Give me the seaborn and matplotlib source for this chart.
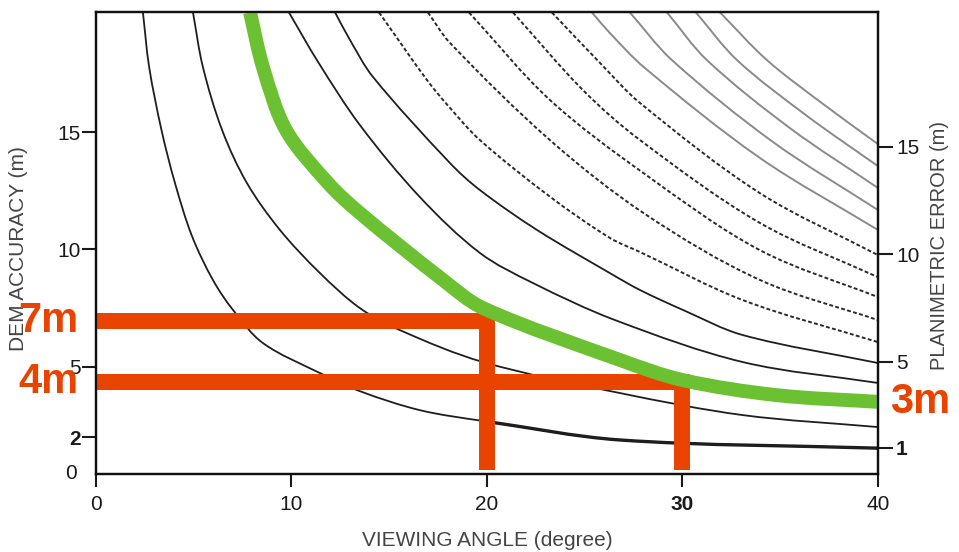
import matplotlib
matplotlib.use("Agg")
import matplotlib.pyplot as plt
import seaborn as sns
from matplotlib.path import Path
from matplotlib.patches import PathPatch

# Curves: viewing angle (degree) -> DEM accuracy (m),
# one curve per planimetric error (m)
angle_1m = [2.40, 2.72, 3.35, 4.04, 4.91, 5.98, 7.01, 8.54, 11.46, 13.50, 16.57, 19.80, 26.80, 40.0]
dem_1m = [20.1, 17.77, 15.09, 12.83, 10.57, 8.70, 7.42, 6.01, 4.73, 3.96, 3.15, 2.69, 1.88, 1.53]

angle_2m = [4.96, 5.47, 6.45, 7.72, 9.41, 11.46, 13.50, 15.55, 19.80, 26.80, 33.09, 40.0]
dem_2m = [20.1, 17.77, 15.09, 12.83, 10.83, 8.99, 7.50, 6.56, 5.20, 3.88, 2.94, 2.43]

angle_3m = [7.88, 8.54, 9.72, 11.87, 13.50, 17.75, 19.80, 26.80, 30.03, 34.83, 40.1]
dem_3m = [20.1, 17.77, 15.09, 12.83, 11.55, 8.70, 7.50, 5.29, 4.43, 3.79, 3.50]

angle_4m = [9.87, 11.36, 13.50, 16.57, 19.64, 22.35, 26.55, 33.09, 40.0]
dem_4m = [20.1, 17.99, 15.30, 12.23, 9.85, 8.57, 6.99, 5.20, 4.31]

angle_5m = [12.23, 12.99, 14.17, 18.11, 19.64, 22.56, 26.29, 27.83, 30.03, 33.09, 40.0]
dem_5m = [20.1, 18.93, 17.35, 13.68, 12.53, 10.83, 8.99, 8.27, 7.42, 6.35, 5.16]

angle_6m = [14.48, 16.93, 18.11, 19.64, 23.22, 26.29, 27.83, 33.09, 40.0]
dem_6m = [20.1, 17.22, 16.03, 14.66, 12.25, 10.49, 9.89, 7.84, 6.05]

angle_7m = [16.98, 18.11, 23.22, 28.08, 33.96, 40.0]
dem_7m = [20.1, 18.80, 14.66, 11.51, 8.70, 6.99]

angle_8m = [19.08, 23.22, 28.08, 33.96, 40.0]
dem_8m = [20.1, 16.37, 13.21, 9.97, 7.97]

angle_9m = [21.33, 24.91, 27.83, 33.96, 40.0]
dem_9m = [20.1, 16.79, 14.66, 11.13, 8.82]

angle_10m = [23.32, 25.78, 27.83, 33.96, 40.0]
dem_10m = [20.1, 17.95, 16.24, 12.40, 9.76]

angle_11m = [25.37, 26.29, 28.08, 33.96, 40.0]
dem_11m = [20.1, 19.22, 17.73, 13.90, 10.83]

angle_12m = [27.31, 29.46, 34.63, 40.0]
dem_12m = [20.1, 18.07, 14.58, 11.68]

angle_13m = [29.21, 31.25, 35.50, 40.0]
dem_13m = [20.1, 18.07, 15.17, 12.62]

angle_14m = [30.69, 32.79, 36.37, 40.0]
dem_14m = [20.1, 18.07, 15.69, 13.55]

angle_15m = [31.92, 34.32, 37.19, 40.0]
dem_15m = [20.1, 18.07, 16.20, 14.49]

# red read-off markers
marker_angle = [20, 30]
marker_dem = [6.95, 4.33]
marker_text = ["7m", "4m"]
marker_floor = 0.6

x_ticks = [0, 10, 20, 30, 40]
left_ticks = [2, 5, 10, 15]
right_ticks = [1, 5, 10, 15]

RED = "#e94300"
GREEN = "#6cc133"

# roughly px per unit, so the smoothing treats both axes alike
SX, SY = 19.55, 23.46


def smooth_path(xs, ys):
    """Cubic Bezier path through the read points (chord-length Catmull-Rom)."""
    pts = [(x * SX, y * SY) for x, y in zip(xs, ys)]
    n = len(pts)
    t = [0.0]
    for i in range(1, n):
        dx = pts[i][0] - pts[i - 1][0]
        dy = pts[i][1] - pts[i - 1][1]
        t.append(t[-1] + (dx * dx + dy * dy) ** 0.5)
    tang = []
    for i in range(n):
        a, b = max(i - 1, 0), min(i + 1, n - 1)
        dt = t[b] - t[a]
        tang.append(((pts[b][0] - pts[a][0]) / dt, (pts[b][1] - pts[a][1]) / dt))
    verts = [pts[0]]
    codes = [Path.MOVETO]
    for i in range(n - 1):
        h = (t[i + 1] - t[i]) / 3
        c1 = (pts[i][0] + tang[i][0] * h, pts[i][1] + tang[i][1] * h)
        c2 = (pts[i + 1][0] - tang[i + 1][0] * h, pts[i + 1][1] - tang[i + 1][1] * h)
        verts += [c1, c2, pts[i + 1]]
        codes += [Path.CURVE4] * 3
    verts = [(x / SX, y / SY) for x, y in verts]
    return Path(verts, codes)


def draw_curve(ax, xs, ys, **kw):
    ax.add_patch(PathPatch(smooth_path(xs, ys), fill=False, **kw))


sns.set_theme(style="white")
plt.rcParams["font.family"] = ["Liberation Sans", "DejaVu Sans"]

fig = plt.figure(figsize=(9.59, 5.52), dpi=100)
ax = fig.add_axes([0.1001, 0.1413, 0.8154, 0.8370])

solid = [(angle_1m, dem_1m), (angle_2m, dem_2m), (angle_4m, dem_4m), (angle_5m, dem_5m)]
dashed = [(angle_6m, dem_6m), (angle_7m, dem_7m), (angle_8m, dem_8m),
          (angle_9m, dem_9m), (angle_10m, dem_10m)]
grey = [(angle_11m, dem_11m), (angle_12m, dem_12m), (angle_13m, dem_13m),
        (angle_14m, dem_14m), (angle_15m, dem_15m)]

for xs, ys in solid:
    draw_curve(ax, xs, ys, edgecolor="#1e1e1e", linewidth=1.3, zorder=2)
for xs, ys in dashed:
    draw_curve(ax, xs, ys, edgecolor="#2a2a2a", linewidth=1.4,
               linestyle=(0, (2.0, 1.2)), zorder=2)
for xs, ys in grey:
    draw_curve(ax, xs, ys, edgecolor="#8a8a8a", linewidth=1.4, zorder=2)

# the 1 m curve is drawn heavier along its flat tail
tail = [i for i, a in enumerate(angle_1m) if a >= 19.8]
draw_curve(ax, [angle_1m[i] for i in tail], [dem_1m[i] for i in tail],
           edgecolor="#1e1e1e", linewidth=2.4, zorder=2)

# red guide lines
for a, d, t in zip(marker_angle, marker_dem, marker_text):
    sns.lineplot(x=[0, a, a], y=[d, d, marker_floor], ax=ax, sort=False,
                 estimator=None, color=RED, linewidth=11.5,
                 solid_capstyle="butt", solid_joinstyle="miter", zorder=3)
    ax.text(-2.45, d, t, color=RED, fontsize=30, fontweight="bold",
            ha="center", va="center", zorder=5)

# green 3 m curve
draw_curve(ax, angle_3m, dem_3m, edgecolor=GREEN, linewidth=10,
           capstyle="butt", zorder=4)
ax.text(42.15, dem_3m[-1], "3m", color=RED, fontsize=30, fontweight="bold",
        ha="center", va="center", zorder=5)

ax.set_xlim(0, 40)
ax.set_ylim(0.43, 20.12)
ax.set_xticks(x_ticks)
ax.set_xticklabels([str(v) for v in x_ticks])
ax.set_yticks(left_ticks)
ax.set_yticklabels([str(v) for v in left_ticks])
for lab in ax.get_xticklabels():
    if lab.get_text() == "30":
        lab.set_fontweight("bold")
for lab in ax.get_yticklabels():
    if lab.get_text() == "2":
        lab.set_fontweight("bold")
ax.text(-0.024, 0.002, "0", transform=ax.transAxes, ha="right", va="center",
        fontsize=15, color="#1a1a1a")

ax2 = ax.twinx()
ax2.set_ylim(-0.21, 21.28)
ax2.set_yticks(right_ticks)
ax2.set_yticklabels([str(v) for v in right_ticks])
for lab in ax2.get_yticklabels():
    if lab.get_text() == "1":
        lab.set_fontweight("bold")

for a in (ax, ax2):
    for s in a.spines.values():
        s.set_color("#111111")
        s.set_linewidth(1.6)
ax.tick_params(axis="y", direction="out", length=10, width=1.5, pad=1,
               labelsize=15, colors="#1a1a1a", left=True)
ax.tick_params(axis="x", direction="out", length=9, width=1.5, pad=6,
               labelsize=15, colors="#1a1a1a", bottom=True)
ax2.tick_params(axis="y", direction="out", length=11, width=1.5, pad=2,
                labelsize=15, colors="#1a1a1a", right=True)

ax.set_xlabel("VIEWING ANGLE (degree)", fontsize=15, color="#444444")
ax.xaxis.set_label_coords(0.5, -0.143)
ax.xaxis.label.set_va("center")
ax.set_ylabel("DEM ACCURACY (m)", fontsize=15, color="#444444")
ax.yaxis.set_label_coords(-0.0997, 0.489)
ax.yaxis.label.set_va("center")
ax2.set_ylabel("PLANIMETRIC ERROR (m)", fontsize=14.5, color="#444444")
ax2.yaxis.set_label_coords(1.079, 0.495)
ax2.yaxis.label.set_va("center")

fig.savefig("out.png", dpi=100)
